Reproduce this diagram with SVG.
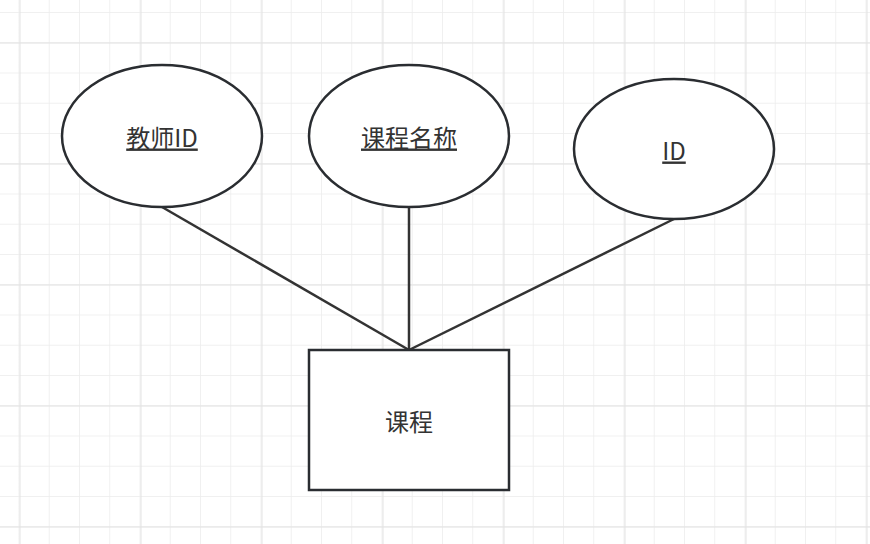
<svg xmlns="http://www.w3.org/2000/svg" width="870" height="544" viewBox="0 0 870 544">
<defs>
<pattern id="minor" x="18.5" y="12" width="30.25" height="30.25" patternUnits="userSpaceOnUse"><path d="M0 0V30.25M0 0H30.25" stroke="#ececec" stroke-width="1.5" fill="none"/></pattern>
<pattern id="major" x="19.5" y="42.5" width="121" height="121" patternUnits="userSpaceOnUse"><path d="M0 0V121M0 0H121" stroke="#e2e2e2" stroke-width="2" fill="none"/></pattern>
</defs>
<style>
.n{fill:#fff;stroke:#2a2d31;stroke-width:2.5}
.t{font-family:"Noto Sans CJK SC","Noto Sans",sans-serif;font-size:24px;fill:#333;text-anchor:middle;dominant-baseline:central}
.u{text-decoration:underline}
</style>
<rect width="870" height="544" fill="#fff"/>
<rect width="870" height="544" fill="url(#minor)"/>
<rect width="870" height="544" fill="url(#major)"/>
<g id="connectors" stroke="#333" stroke-width="2.5" fill="none">
<line x1="162" y1="207" x2="409" y2="350"/>
<line x1="409" y1="207" x2="409" y2="350"/>
<line x1="674" y1="219" x2="409" y2="350"/>
</g>
<g id="n1"><ellipse class="n" cx="162" cy="136" rx="100" ry="71"/><text class="t u" x="162" y="136">教师ID</text></g>
<g id="n2"><ellipse class="n" cx="409" cy="136" rx="100" ry="71"/><text class="t u" x="409" y="136">课程名称</text></g>
<g id="n3"><ellipse class="n" cx="674" cy="149" rx="100" ry="70"/><text class="t u" x="674" y="149">ID</text></g>
<g id="n4"><rect class="n" x="309" y="350" width="200" height="140"/><text class="t" x="409" y="420">课程</text></g>
</svg>
